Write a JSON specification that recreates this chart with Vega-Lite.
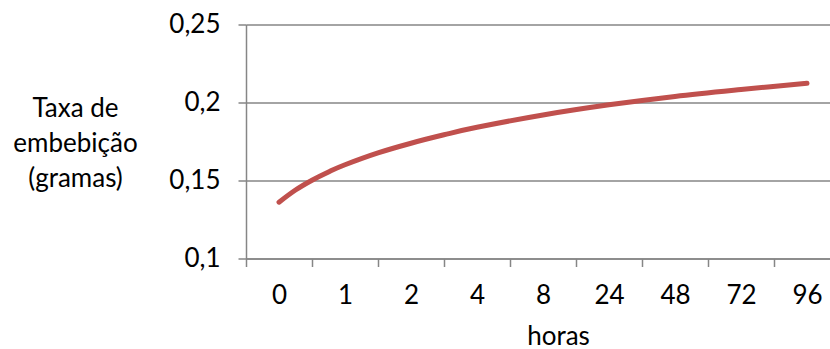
{
  "$schema": "https://vega.github.io/schema/vega-lite/v6.json",
  "autosize": {"type": "none"},
  "padding": {"left": 246, "top": 24.5, "right": 0, "bottom": 90.5},
  "width": 584,
  "height": 234,
  "background": "white",
  "config": {
    "view": {"stroke": null},
    "font": "Lato",
    "axis": {"labelFont": "Lato", "titleFont": "Lato", "labelColor": "#000000", "titleColor": "#000000", "labelFontWeight": "normal", "titleFontWeight": "normal"}
  },
  "datasets": {
    "categorias": [
      {"horas": "0", "taxa": 0.1361},
      {"horas": "1", "taxa": 0.1601},
      {"horas": "2", "taxa": 0.1739},
      {"horas": "4", "taxa": 0.1841},
      {"horas": "8", "taxa": 0.1920},
      {"horas": "24", "taxa": 0.1985},
      {"horas": "48", "taxa": 0.2039},
      {"horas": "72", "taxa": 0.2083},
      {"horas": "96", "taxa": 0.2123}
    ],
    "curva": [
      {"pos": 1, "taxa": 0.1361},
      {"pos": 1.25, "taxa": 0.1439},
      {"pos": 1.5, "taxa": 0.1502},
      {"pos": 1.75, "taxa": 0.1555},
      {"pos": 2, "taxa": 0.1601},
      {"pos": 2.5, "taxa": 0.1677},
      {"pos": 3, "taxa": 0.1739},
      {"pos": 3.5, "taxa": 0.1793},
      {"pos": 4, "taxa": 0.1841},
      {"pos": 5, "taxa": 0.1920},
      {"pos": 6, "taxa": 0.1985},
      {"pos": 7, "taxa": 0.2039},
      {"pos": 8, "taxa": 0.2083},
      {"pos": 9, "taxa": 0.2123}
    ]
  },
  "encoding": {
    "y": {
      "field": "taxa",
      "type": "quantitative",
      "scale": {"domain": [0.1, 0.25], "nice": false, "zero": false},
      "axis": {
        "values": [0.1, 0.15, 0.2, 0.25],
        "labelExpr": "replace(format(datum.value, '.2~f'), '.', ',')",
        "labelFontSize": 26,
        "labelPadding": 18,
        "tickSize": 8,
        "tickColor": "#868686",
        "tickWidth": 1.5,
        "domainColor": "#868686",
        "domainWidth": 1.5,
        "grid": true,
        "gridColor": "#868686",
        "gridWidth": 1.5,
        "title": ["Taxa de", "embebição", "(gramas)"],
        "titleFontSize": 26,
        "titleAngle": 0,
        "titleAlign": "center",
        "titleBaseline": "alphabetic",
        "titleLineHeight": 35.3,
        "titleX": -171,
        "titleY": 91.5
      }
    }
  },
  "layer": [
    {
      "data": {"name": "categorias"},
      "mark": {"type": "point", "opacity": 0},
      "encoding": {
        "x": {
          "field": "horas",
          "type": "nominal",
          "sort": ["0", "1", "2", "4", "8", "24", "48", "72", "96"],
          "scale": {"type": "band", "paddingInner": 0, "paddingOuter": 0, "range": [0, 594]},
          "axis": {
            "title": "horas",
            "labelAngle": 0,
            "labelFontSize": 26,
            "labelPadding": 16,
            "labelBaseline": "top",
            "tickBand": "extent",
            "tickSize": 8,
            "tickColor": "#868686",
            "tickWidth": 1.5,
            "domainColor": "#868686",
            "domainWidth": 1.5,
            "grid": false,
            "titleFontSize": 26,
            "titleX": 312,
            "titleY": 86,
            "titleAnchor": null,
            "titleAlign": "center",
            "titleBaseline": "alphabetic"
          }
        }
      }
    },
    {
      "data": {"name": "curva"},
      "mark": {"type": "line", "color": "#C0504D", "strokeWidth": 5, "strokeCap": "round", "interpolate": "cardinal", "tension": 0},
      "encoding": {
        "x": {
          "field": "pos",
          "type": "quantitative",
          "scale": {"domain": [0.5, 9.5], "range": [0, 594], "nice": false, "zero": false},
          "axis": null
        }
      }
    }
  ],
  "resolve": {"scale": {"x": "independent"}}
}
